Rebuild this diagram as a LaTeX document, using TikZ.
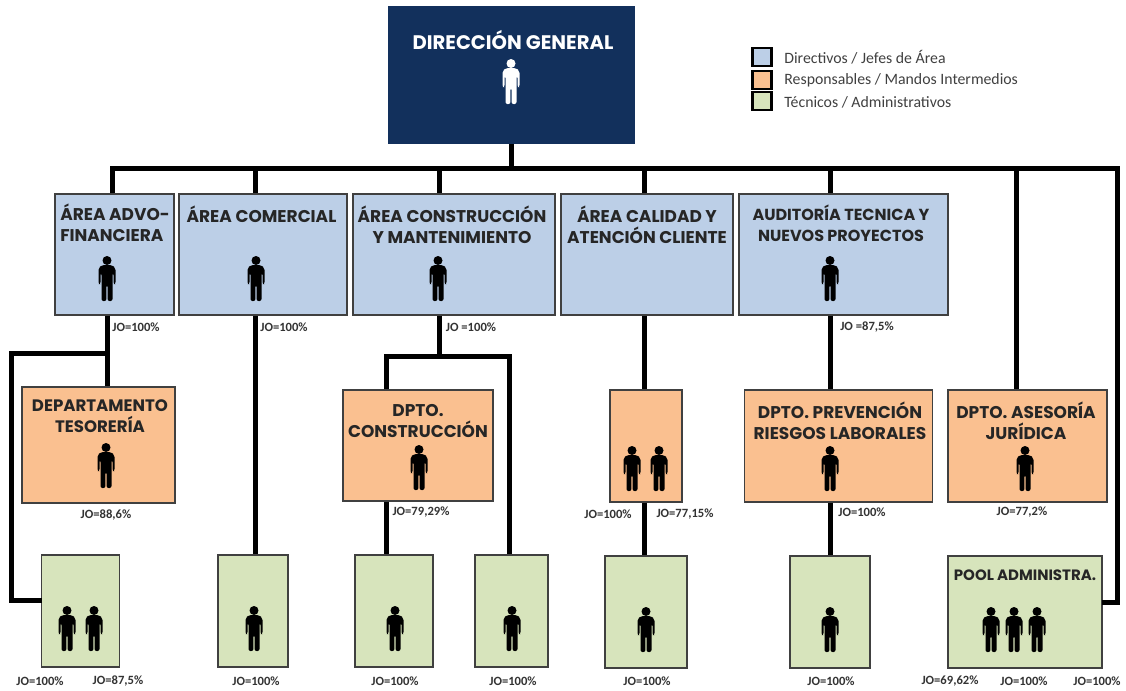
\documentclass[tikz,border=0pt]{standalone}
\usepackage{fontspec}
\usepackage{tikz}
\usepackage{xcolor}
\setmainfont{Carlito}
\newfontfamily\headfont{Poppins}
\usetikzlibrary{positioning}
\definecolor{navybox}{HTML}{12305C}
\definecolor{bluebox}{HTML}{BCCFE7}
\definecolor{orangebox}{HTML}{FAC090}
\definecolor{greenbox}{HTML}{D7E4BC}

\begin{document}
\begin{tikzpicture}
[x=0.5pt,y=-0.5pt,
      boxsize/.style 2 args={minimum width=#1*0.5pt,minimum height=#2*0.5pt,inner sep=0pt},
      unit/.style={draw=black!75,line width=0.6pt},
      dirbox/.style={unit,fill=navybox,draw=navybox},
      areabox/.style={unit,fill=bluebox},
      dptobox/.style={unit,fill=orangebox},
      techbox/.style={unit,fill=greenbox},
      keybox/.style={draw=black,line width=1.1pt,boxsize={19}{18}},
      link/.style={line width=2.5pt,black},
      title/.style={font=\headfont\bfseries\fontsize{#1}{10.5}\selectfont,align=center,inner sep=0pt,text=black!85},
      title/.default=8.5,
      jo/.style={font=\bfseries\fontsize{6.3}{7}\selectfont,inner sep=0pt,text=black!80},
      keytext/.style={font=\fontsize{7.9}{9}\selectfont,anchor=west,inner sep=0pt,text=black!75},
      person/.pic={
       \fill[pic actions] (0,-18.5) circle (4.5);
       \fill[pic actions,rounded corners=1] (-5,-14) -- (5,-14) -- (8.5,-11) -- (8.5,5) -- (6.5,5)
        -- (6.5,-6) -- (5.5,-6) -- (5.5,22) -- (0.6,22) -- (0.6,6) -- (-0.6,6) -- (-0.6,22) -- (-5.5,22)
        -- (-5.5,-6) -- (-6.5,-6) -- (-6.5,5) -- (-8.5,5) -- (-8.5,-11) -- cycle;}]
 \useasboundingbox (0,0) rectangle (1126,691);

 \node[dirbox,boxsize={245}{136}] (dg) at (511.5,75) {};
 \node[areabox,boxsize={119}{121}] (advo) at (114.5,254.5) {};
 \node[areabox,boxsize={168}{121}] (com) at (263,254.5) {};
 \node[areabox,boxsize={202}{121}] (con) at (454,254.5) {};
 \node[areabox,boxsize={172}{121}] (cal) at (647,254.5) {};
 \node[areabox,boxsize={209}{121}] (aud) at (843.5,254.5) {};
 \node[dptobox,boxsize={153}{116}] (tes) at (98.5,445) {};
 \node[dptobox,boxsize={150}{111}] (dcon) at (418,445.5) {};
 \node[dptobox,boxsize={72}{112}] (dcal) at (646,446) {};
 \node[dptobox,boxsize={188}{112}] (prev) at (838.5,446) {};
 \node[dptobox,boxsize={159}{112}] (ase) at (1027.5,446) {};
 \node[techbox,boxsize={78}{112}] (gtes) at (80.5,611) {};
 \node[techbox,boxsize={70}{112}] (gcom) at (253,611) {};
 \node[techbox,boxsize={78}{112}] (gconl) at (394,611) {};
 \node[techbox,boxsize={73}{112}] (gconr) at (511.5,611) {};
 \node[techbox,boxsize={82}{112}] (gcal) at (646,612) {};
 \node[techbox,boxsize={80}{112}] (gprev) at (830,612) {};
 \node[techbox,boxsize={154}{112}] (gpool) at (1025,612) {};

 \coordinate (busleft) at (112,168);
 \coordinate (buscom) at (255,168);
 \coordinate (buscon) at (439,168);
 \coordinate (buscal) at (644,168);
 \coordinate (busaud) at (830,168);
 \coordinate (busase) at (1016,168);
 \coordinate (busright) at (1117,168);
 \coordinate (advoout) at (107,353);
 \coordinate (leftbar) at (11,353);
 \coordinate (gtesin) at (42,600);
 \coordinate (conout) at (439,356);
 \coordinate (conleft) at (386,356);
 \coordinate (conright) at (509,356);
 \coordinate (gpoolin) at (1102,602);

 \draw[link] (dg.south) -- (dg.south |- busleft);
 \draw[link] (busleft |- advo.north) -- (busleft) -- (busright) |- (gpoolin);
 \draw[link] (buscom) -- (buscom |- com.north);
 \draw[link] (buscon) -- (buscon |- con.north);
 \draw[link] (buscal) -- (buscal |- cal.north);
 \draw[link] (busaud) -- (busaud |- aud.north);
 \draw[link] (busase) -- (busase |- ase.north);
 \draw[link] (advo.south -| advoout) -- (tes.north -| advoout);
 \draw[link] (advoout) -- (leftbar) |- (gtesin);
 \draw[link] (com.south -| buscom) -- (gcom.north -| buscom);
 \draw[link] (con.south -| conout) -- (conout);
 \draw[link] (dcon.north -| conleft) |- (conright) -- (gconr.north -| conright);
 \draw[link] (dcon.south -| conleft) -- (gconl.north -| conleft);
 \draw[link] (cal.south -| buscal) -- (dcal.north -| buscal);
 \draw[link] (dcal.south -| buscal) -- (gcal.north -| buscal);
 \draw[link] (aud.south -| busaud) -- (prev.north -| busaud);
 \draw[link] (prev.south -| busaud) -- (gprev.north -| busaud);

 \node[title=9.8,text=white] (dgtitle) at (513,40) {DIRECCIÓN GENERAL};
 \node[title,align=left] (advotitle) at (115,223) {ÁREA ADVO-\\FINANCIERA};
 \node[title] (comtitle) at (261.5,214) {ÁREA COMERCIAL};
 \node[title] (contitle) at (452,224.5) {ÁREA CONSTRUCCIÓN\\Y MANTENIMIENTO};
 \node[title] (caltitle) at (647,224.5) {ÁREA CALIDAD Y\\ATENCIÓN CLIENTE};
 \node[title=8] (audtitle) at (841,223) {AUDITORÍA TECNICA Y\\NUEVOS PROYECTOS};
 \node[title=8.3] (testitle) at (100,416.5) {DEPARTAMENTO\\TESORERÍA};
 \node[title] (dcontitle) at (418,421) {DPTO.\\CONSTRUCCIÓN};
 \node[title] (prevtitle) at (840,421) {DPTO. PREVENCIÓN\\RIESGOS LABORALES};
 \node[title] (asetitle) at (1026,421) {DPTO. ASESORÍA\\JURÍDICA};
 \node[title=7.5] (pooltitle) at (1025,575) {POOL ADMINISTRA.};

 \pic[fill=white] at (511,82) {person};
 \pic[fill=black] at (107,279) {person};
 \pic[fill=black] at (256,279) {person};
 \pic[fill=black] at (438,279) {person};
 \pic[fill=black] at (830,279) {person};
 \pic[fill=black] at (106,466) {person};
 \pic[fill=black] at (419,468) {person};
 \pic[fill=black] at (632,469) {person};
 \pic[fill=black] at (659,469) {person};
 \pic[fill=black] at (830,469) {person};
 \pic[fill=black] at (1025,469) {person};
 \pic[fill=black] at (67,629) {person};
 \pic[fill=black] at (94,629) {person};
 \pic[fill=black] at (254,629) {person};
 \pic[fill=black] at (395,629) {person};
 \pic[fill=black] at (512,629) {person};
 \pic[fill=black] at (646,630) {person};
 \pic[fill=black] at (830,630) {person};
 \pic[fill=black] at (991,630) {person};
 \pic[fill=black] at (1014,630) {person};
 \pic[fill=black] at (1037,630) {person};

 \node[jo] (joadvo) at (136,327) {JO=100\%};
 \node[jo] (jocom) at (284,327) {JO=100\%};
 \node[jo] (jocon) at (471,327) {JO =100\%};
 \node[jo] (joaud) at (867,327) {JO =87,5\%};
 \node[jo] (jotes) at (106,515) {JO=88,6\%};
 \node[jo] (jodcon) at (421,512) {JO=79,29\%};
 \node[jo] (jodcala) at (608,514) {JO=100\%};
 \node[jo] (jodcalb) at (685,514) {JO=77,15\%};
 \node[jo] (joprev) at (862,512) {JO=100\%};
 \node[jo] (joase) at (1022,512) {JO=77,2\%};
 \node[jo] (jogtesa) at (40,681) {JO=100\%};
 \node[jo] (jogtesb) at (118,681) {JO=87,5\%};
 \node[jo] (jogcom) at (256,681) {JO=100\%};
 \node[jo] (jogconl) at (395,681) {JO=100\%};
 \node[jo] (jogconr) at (513,681) {JO=100\%};
 \node[jo] (jogcal) at (647,681) {JO=100\%};
 \node[jo] (jogprev) at (831,681) {JO=100\%};
 \node[jo] (jopoola) at (950,681) {JO=69,62\%};
 \node[jo] (jopoolb) at (1024,681) {JO=100\%};
 \node[jo] (jopoolc) at (1097,681) {JO=100\%};

 \node[keybox,fill=bluebox] (keyblue) at (762,57) {};
 \node[keybox,fill=orangebox] (keyorange) at (762,80) {};
 \node[keybox,fill=greenbox] (keygreen) at (762,101) {};
 \node[keytext] (keybluetext) at (784,57) {Directivos / Jefes de Área};
 \node[keytext] (keyorangetext) at (784,80) {Responsables / Mandos Intermedios};
 \node[keytext] (keygreentext) at (784,102) {Técnicos / Administrativos};
\end{tikzpicture}
\end{document}
